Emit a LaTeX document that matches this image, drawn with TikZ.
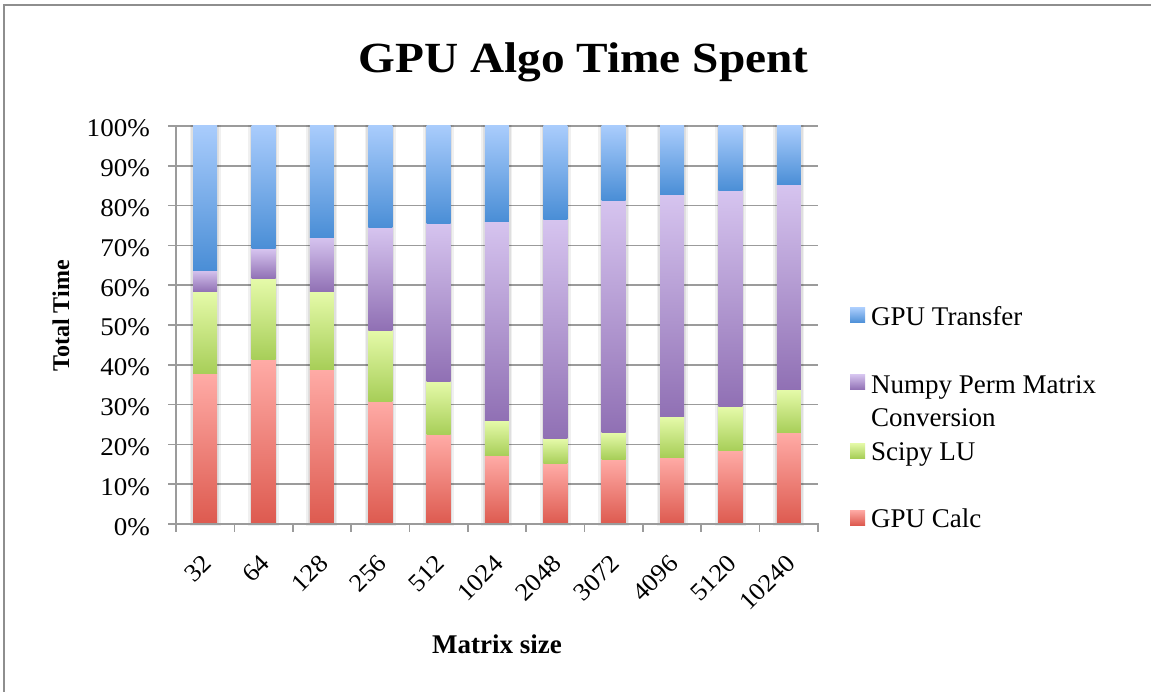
\documentclass[tikz,border=0pt]{standalone}
\usepackage{fontspec}
\setmainfont{Liberation Serif}
\newfontfamily\titlefont{Liberation Serif}[FakeStretch=1.10]
\newfontfamily\numfont{Liberation Serif}[FakeStretch=1.06]
\definecolor{gridc}{HTML}{9B9B9B}
\definecolor{framec}{HTML}{8E8E8E}
\definecolor{blueT}{HTML}{A9CCFC}
\definecolor{blueB}{HTML}{4A8ED6}
\definecolor{purT}{HTML}{D6C4EF}
\definecolor{purB}{HTML}{9070B4}
\definecolor{grnT}{HTML}{E5FAA9}
\definecolor{grnB}{HTML}{A7CE58}
\definecolor{redT}{HTML}{FFABA6}
\definecolor{redB}{HTML}{DD5A4F}
\tikzset{
  gridline/.style={draw=gridc, line width=1.7pt},
  axisline/.style={draw=gridc, line width=1.7pt},
  bluegrad/.style={top color=blueT, bottom color=blueB},
  purgrad/.style={top color=purT, bottom color=purB},
  grngrad/.style={top color=grnT, bottom color=grnB},
  redgrad/.style={top color=redT, bottom color=redB},
  ylab/.style={anchor=base east, inner sep=0pt, font=\numfont\fontsize{25.5}{30}\selectfont},
  xlab/.style={anchor=east, rotate=45, inner sep=0pt, font=\numfont\fontsize{25}{30}\selectfont},
  legtext/.style={anchor=base west, inner sep=0pt, font=\fontsize{27}{33}\selectfont},
  axtitle/.style={inner sep=0pt, font=\bfseries\fontsize{27}{32}\selectfont},
  charttitle/.style={anchor=base, inner sep=0pt, font=\titlefont\bfseries\fontsize{43}{50}\selectfont}
}
\begin{document}
\begin{tikzpicture}[x=1pt,y=-1pt]
\useasboundingbox (0,0) rectangle (1151,692);
\fill[white] (0,0) rectangle (1151,692);
\draw[framec, line width=2pt] (4,692) -- (4,5) -- (1151,5);

% title
\node[charttitle] (title) at (583.5,73) {GPU Algo Time Spent};

% gridlines and y labels
\foreach \k in {0,...,10}{
  \draw[gridline] (168,{524-39.8*\k}) -- (818,{524-39.8*\k});
  \pgfmathtruncatemacro\pc{10*\k}
  \node[ylab] (y\k) at (150,{524-39.8*\k+11}) {\pc\%};
}

% bars
\foreach \lab/\r/\g/\p [count=\i] in {
  32/37.7/58.3/63.8, 64/41.3/61.6/69.1, 128/38.9/58.3/72.1,
  256/30.9/48.7/74.4, 512/22.4/35.9/75.6, 1024/17.1/25.9/76.1,
  2048/15.1/21.4/76.6, 3072/16.3/22.9/81.4, 4096/16.8/26.9/82.7,
  5120/18.4/29.4/83.7, 10240/22.9/33.7/85.2}{
  \pgfmathsetmacro\cx{176+(\i-0.5)*58.36}
  \pgfmathsetmacro\xl{\cx-12}
  \pgfmathsetmacro\xr{\cx+12}
  \pgfmathsetmacro\yr{524-3.98*\r}
  \pgfmathsetmacro\yg{524-3.98*\g}
  \pgfmathsetmacro\yp{524-3.98*\p}
  \fill[black, opacity=0.06] (\xl-3.5,125) rectangle (\xr+3.5,525.5);
  \fill[black, opacity=0.07] (\xl-1.8,125.5) rectangle (\xr+1.8,525);
  \shade[redgrad] (\xl,\yr) rectangle (\xr,524);
  \shade[grngrad] (\xl,\yg) rectangle (\xr,\yr);
  \shade[purgrad] (\xl,\yp) rectangle (\xr,\yg);
  \shade[bluegrad] (\xl,126) rectangle (\xr,\yp);
  \node[xlab] (x\i) at (\cx+2,559) {\lab};
}

% axes
\draw[axisline] (176,125.2) -- (176,532);
\draw[axisline] (168,524) -- (818.5,524);
\foreach \k in {1,...,11}{
  \draw[axisline] ({176+58.36*\k},524) -- ({176+58.36*\k},532);
}

% axis titles
\node[axtitle, rotate=90, font=\bfseries\fontsize{24}{28}\selectfont] (ytitle) at (61,316) {Total Time};
\node[axtitle, anchor=base] (xtitle) at (497,653) {Matrix size};

% legend
\shade[bluegrad] (850,308) rectangle (865,323);
\node[legtext] (leg1) at (871,326) {GPU Transfer};
\shade[purgrad] (850,374.5) rectangle (865,389.5);
\node[legtext] (leg2a) at (871,393) {Numpy Perm Matrix};
\node[legtext] (leg2b) at (871,426) {Conversion};
\shade[grngrad] (850,443) rectangle (865,458);
\node[legtext] (leg3) at (871,460) {Scipy LU};
\shade[redgrad] (850,510) rectangle (865,525);
\node[legtext] (leg4) at (871,527) {GPU Calc};
\end{tikzpicture}
\end{document}
